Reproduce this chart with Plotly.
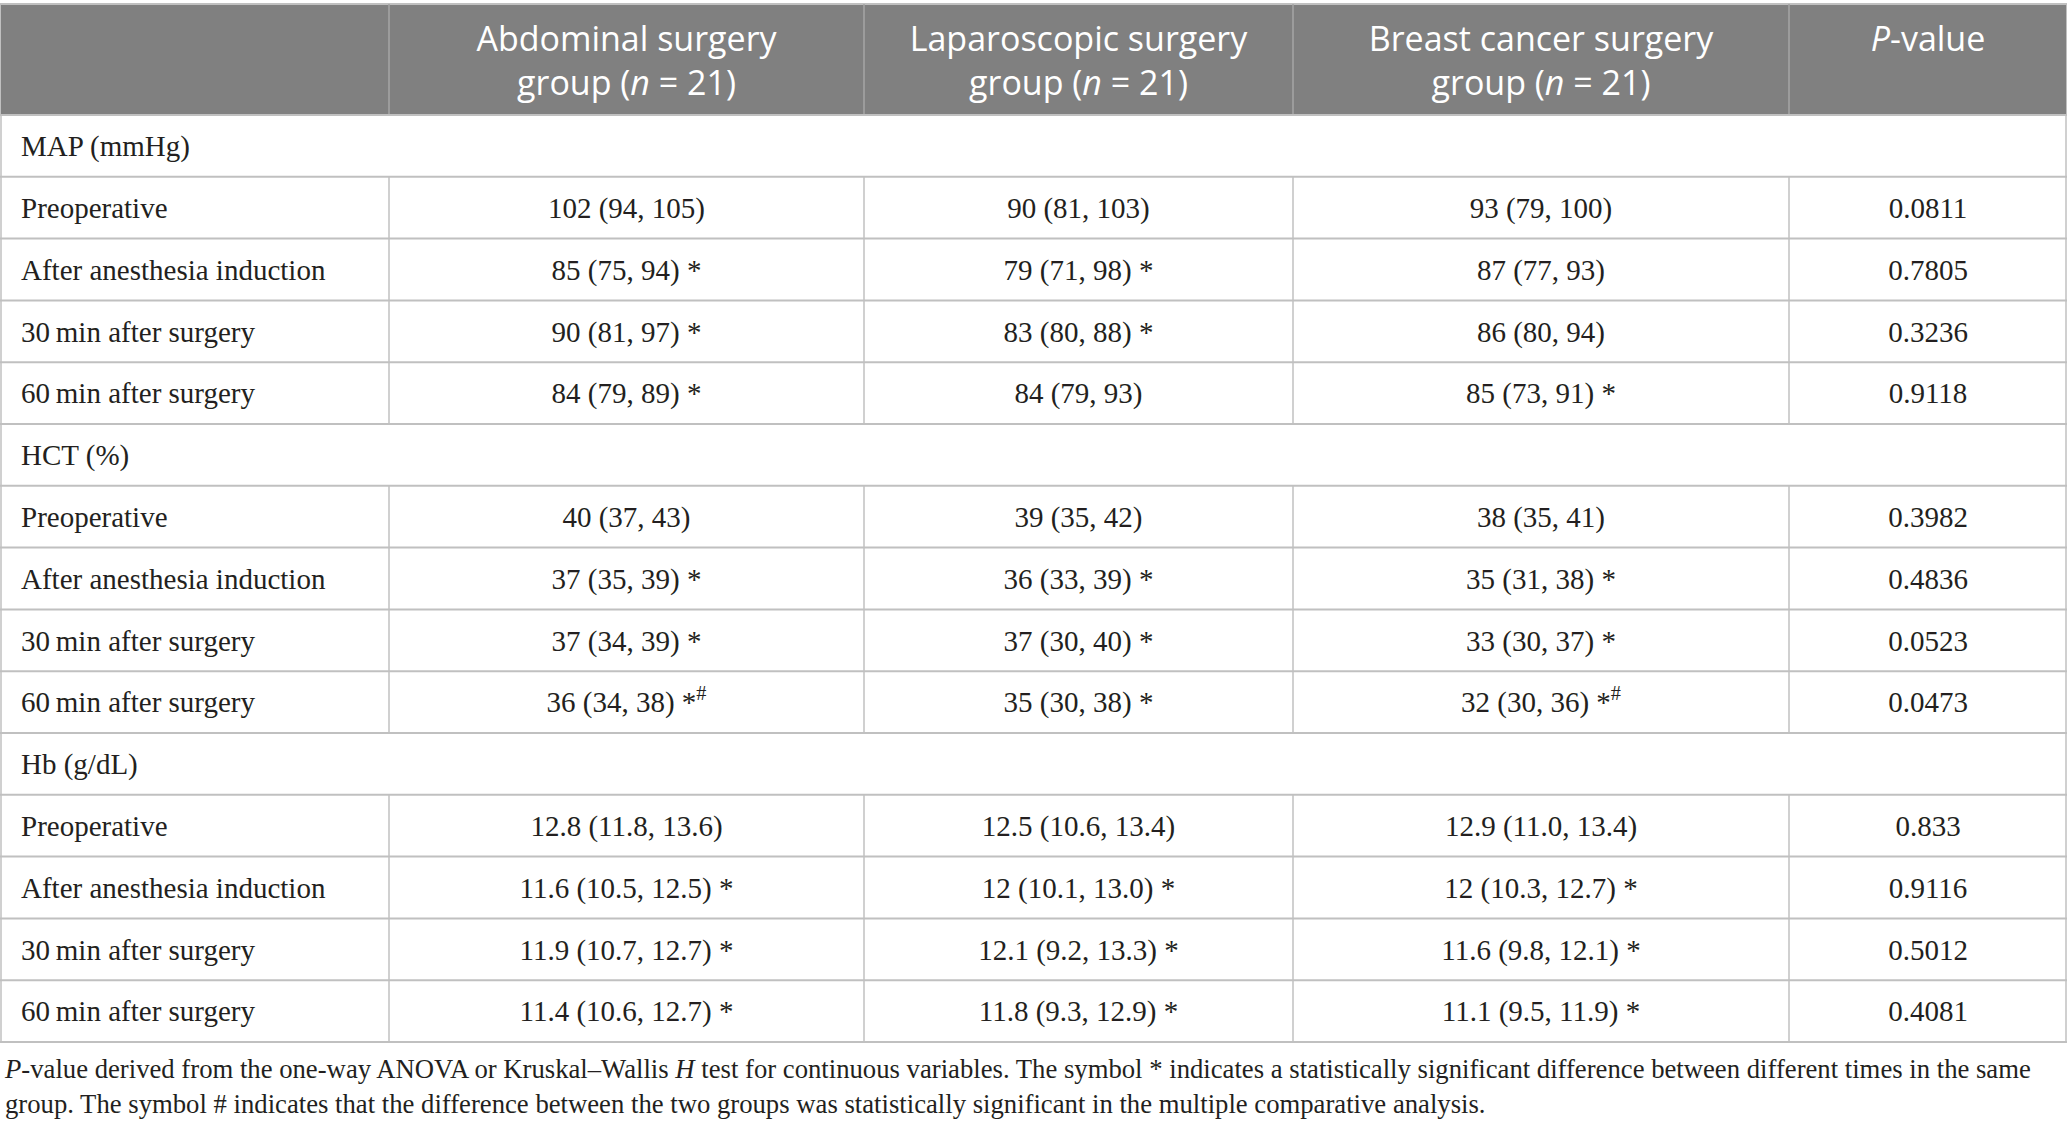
import plotly.graph_objects as go

# column headers
headers = ["Abdominal surgery<br>group (<i>n</i> = 21)",
           "Laparoscopic surgery<br>group (<i>n</i> = 21)",
           "Breast cancer surgery<br>group (<i>n</i> = 21)",
           "<i>P</i>-value"]

sections = ["MAP (mmHg)", "HCT (%)", "Hb (g/dL)"]
timepoints = ["Preoperative", "After anesthesia induction",
              "30\u2009min after surgery", "60\u2009min after surgery"]

abdominal = ["102 (94, 105)", "85 (75, 94) *", "90 (81, 97) *", "84 (79, 89) *",
             "40 (37, 43)", "37 (35, 39) *", "37 (34, 39) *", "36 (34, 38) *<sup>#</sup>",
             "12.8 (11.8, 13.6)", "11.6 (10.5, 12.5) *", "11.9 (10.7, 12.7) *", "11.4 (10.6, 12.7) *"]
laparoscopic = ["90 (81, 103)", "79 (71, 98) *", "83 (80, 88) *", "84 (79, 93)",
                "39 (35, 42)", "36 (33, 39) *", "37 (30, 40) *", "35 (30, 38) *",
                "12.5 (10.6, 13.4)", "12 (10.1, 13.0) *", "12.1 (9.2, 13.3) *", "11.8 (9.3, 12.9) *"]
breast = ["93 (79, 100)", "87 (77, 93)", "86 (80, 94)", "85 (73, 91) *",
          "38 (35, 41)", "35 (31, 38) *", "33 (30, 37) *", "32 (30, 36) *<sup>#</sup>",
          "12.9 (11.0, 13.4)", "12 (10.3, 12.7) *", "11.6 (9.8, 12.1) *", "11.1 (9.5, 11.9) *"]
p_values = ["0.0811", "0.7805", "0.3236", "0.9118",
            "0.3982", "0.4836", "0.0523", "0.0473",
            "0.833", "0.9116", "0.5012", "0.4081"]

footnote = ("<i>P</i>-value derived from the one-way ANOVA or Kruskal\u2013Wallis <i>H</i> test for continuous variables. "
            "The symbol * indicates a statistically significant difference between different times in the same<br>"
            "group. The symbol # indicates that the difference between the two groups was statistically significant "
            "in the multiple comparative analysis.")

# layout (pixels)
W, H = 2067, 1131
col_edges = [0, 389, 864, 1293, 1789, 2067]
head_top, head_bot = 4, 115
row_h = 61.8
line_col = "#c0c0c0"
head_fill = "#808080"
serif = "Liberation Serif, Times New Roman, serif"
sans = "Open Sans, Noto Sans, sans-serif"

# build row list: section rows followed by their timepoints
labels, is_section = [], []
for s in sections:
    labels.append(s)
    is_section.append(True)
    for t in timepoints:
        labels.append(t)
        is_section.append(False)

row_y = [head_bot + (i + 0.5) * row_h + 3 for i in range(len(labels))]
data_y = [y for y, sec in zip(row_y, is_section) if not sec]
centers = [(a + b) / 2 for a, b in zip(col_edges[:-1], col_edges[1:])]
n_rows = len(labels)
table_bot = head_bot + n_rows * row_h

fig = go.Figure()

# header labels
fig.add_trace(go.Scatter(
    x=centers[1:], y=[head_top + 21] * 4, text=headers, mode="text",
    textposition="bottom center", hoverinfo="skip",
    textfont=dict(family=sans, size=34, color="white")))

# row labels
fig.add_trace(go.Scatter(
    x=[21] * n_rows, y=row_y, text=labels, mode="text",
    textposition="middle right", hoverinfo="skip",
    textfont=dict(family=serif, size=29, color="#231f20")))

# value columns
for cx, vals in zip(centers[1:], [abdominal, laparoscopic, breast, p_values]):
    fig.add_trace(go.Scatter(
        x=[cx] * len(vals), y=data_y, text=vals, mode="text",
        textposition="middle center", hoverinfo="skip",
        textfont=dict(family=serif, size=29, color="#231f20")))

shapes = []
# header block
shapes.append(dict(type="rect", x0=0, x1=W, y0=head_top, y1=head_bot,
                   fillcolor=head_fill, line=dict(color=line_col, width=2), layer="below"))
for xe in col_edges[1:-1]:
    shapes.append(dict(type="line", x0=xe, x1=xe, y0=head_top, y1=head_bot,
                       line=dict(color="#a6a6a6", width=1.5)))
# horizontal rules
for i in range(n_rows + 1):
    y = head_bot + i * row_h
    shapes.append(dict(type="line", x0=0, x1=W, y0=y, y1=y,
                       line=dict(color=line_col, width=2)))
# outer verticals
for xe in [1, W - 1]:
    shapes.append(dict(type="line", x0=xe, x1=xe, y0=head_bot, y1=table_bot,
                       line=dict(color=line_col, width=1.5)))
# inner verticals, skipped on section rows
for i, sec in enumerate(is_section):
    if sec:
        continue
    y0 = head_bot + i * row_h
    for xe in col_edges[1:-1]:
        shapes.append(dict(type="line", x0=xe, x1=xe, y0=y0, y1=y0 + row_h,
                           line=dict(color=line_col, width=1.5)))

fig.add_annotation(x=2, y=table_bot + 10, xref="x", yref="y", text=footnote,
                   showarrow=False, xanchor="left", yanchor="top", align="left",
                   font=dict(family=serif, size=26.7, color="#231f20"))

fig.update_layout(
    width=W, height=H, margin=dict(l=0, r=0, t=0, b=0),
    paper_bgcolor="white", plot_bgcolor="white", showlegend=False,
    shapes=shapes,
    xaxis=dict(range=[0, W], visible=False, fixedrange=True),
    yaxis=dict(range=[H, 0], visible=False, fixedrange=True),
)

fig.write_html("out.html", config={"displayModeBar": False},
               post_script="document.body.style.margin='0';document.body.style.overflow='hidden';")
